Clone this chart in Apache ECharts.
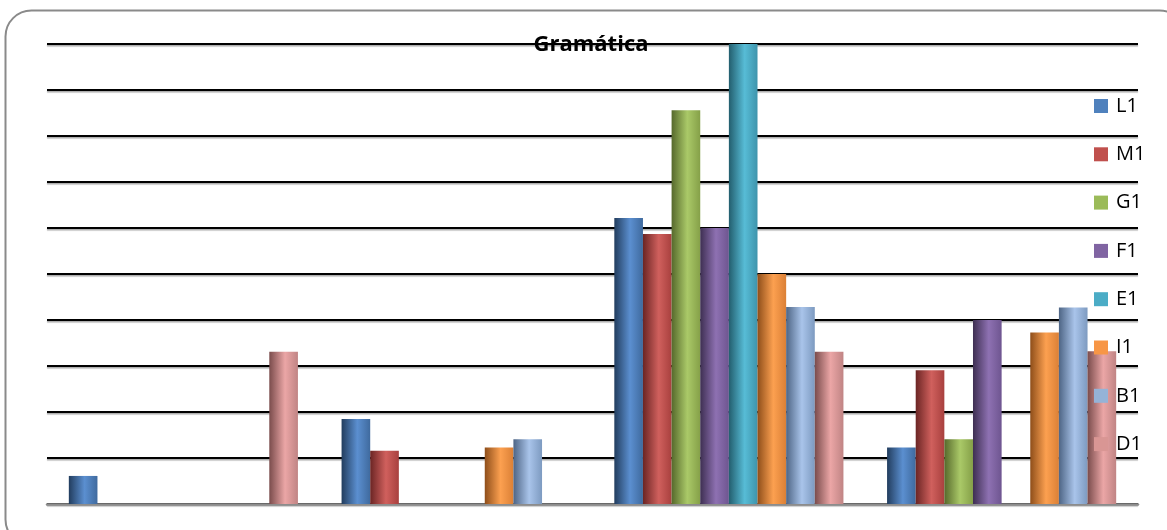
<!DOCTYPE html>
<html>
<head>
<meta charset="utf-8">
<script src="https://cdn.jsdelivr.net/npm/echarts@6/dist/echarts.min.js"></script>
<style>
html,body{margin:0;padding:0;background:#fff;}
#chart{width:1167px;height:530px;}
</style>
</head>
<body>
<div id="chart"></div>
<script>
// Data (y scale 0..10, one unit per gridline)
const categories = ["1", "2", "3", "4"];
const seriesNames = ["L1", "M1", "G1", "F1", "E1", "I1", "B1", "D1"];
const L1 = [0.61, 1.85, 6.22, 1.23];
const M1 = [0, 1.16, 5.87, 2.91];
const G1 = [0, 0, 8.56, 1.41];
const F1 = [0, 0, 6.0, 4.0];
const E1 = [0, 0, 10, 0];
const I1 = [0, 1.23, 5.0, 3.73];
const B1 = [0, 1.41, 4.28, 4.27];
const D1 = [3.31, 0, 3.31, 3.32];
const yTicks = [0, 1, 2, 3, 4, 5, 6, 7, 8, 9, 10];

const values = [L1, M1, G1, F1, E1, I1, B1, D1];
// [flat legend colour, dark edge, light highlight, right edge]
const palette = [
  ["#4F81BD", "#223D5E", "#5B8FD0", "#3F6A9E"],
  ["#C0504D", "#6B2524", "#D0605D", "#A8403E"],
  ["#9BBB59", "#56692C", "#AAC968", "#85A048"],
  ["#8064A2", "#3E2F52", "#8E71B2", "#6E5590"],
  ["#4BACC6", "#235E6E", "#57BCD6", "#3E94AC"],
  ["#F79646", "#8E4E1A", "#FCA050", "#DB8036"],
  ["#95B3D7", "#4E6585", "#A9C4EA", "#7D9AC0"],
  ["#D99694", "#7A4C4C", "#EBA6A6", "#C08484"]
];

function grad(p) {
  return new echarts.graphic.LinearGradient(0, 0, 1, 0, [
    {offset: 0, color: p[1]},
    {offset: 0.55, color: p[2]},
    {offset: 1, color: p[3]}
  ]);
}

const chart = echarts.init(document.getElementById('chart'), null, {renderer: 'canvas'});
const option = {
  animation: false,
  backgroundColor: '#fff',
  title: {
    text: 'Gramática',
    left: 591,
    top: 34,
    padding: 0,
    textAlign: 'center',
    textStyle: {fontFamily: 'Open Sans', fontWeight: 'bold', fontSize: 22, color: '#000'}
  },
  legend: {
    orient: 'vertical',
    left: 1094,
    top: 95,
    padding: 0,
    itemWidth: 14,
    itemHeight: 14,
    itemGap: 26.3,
    icon: 'rect',
    textStyle: {fontFamily: 'Open Sans', fontSize: 20, color: '#000', lineHeight: 22, padding: [0, 0, 0, 3]},
    data: seriesNames.map((n, i) => ({name: n, itemStyle: {color: palette[i][0]}}))
  },
  grid: {left: 47, right: 29, top: 44, bottom: 26, containLabel: false},
  xAxis: {
    type: 'category',
    data: categories,
    axisLine: {show: true, lineStyle: {color: '#8c8c8c', width: 2.5}},
    axisTick: {show: false},
    axisLabel: {show: false},
    splitLine: {show: false}
  },
  yAxis: {
    type: 'value',
    min: yTicks[0],
    max: yTicks[yTicks.length - 1],
    interval: yTicks[1] - yTicks[0],
    axisLine: {show: false},
    axisTick: {show: false},
    axisLabel: {show: false},
    splitLine: {
      show: true,
      lineStyle: {color: '#000', width: 2, shadowColor: 'rgba(0,0,0,0.35)', shadowOffsetY: 1.5, shadowBlur: 1}
    }
  },
  graphic: [{
    type: 'rect',
    z: 100,
    silent: true,
    shape: {x: 5.5, y: 10.5, width: 1180, height: 535, r: 26},
    style: {fill: 'none', stroke: '#8a8a8a', lineWidth: 2}
  }],
  series: seriesNames.map((n, i) => ({
    name: n,
    type: 'bar',
    data: values[i],
    barGap: '0%',
    barCategoryGap: '16%',
    itemStyle: {color: grad(palette[i])},
    emphasis: {disabled: true}
  }))
};
chart.setOption(option);
</script>
</body>
</html>
